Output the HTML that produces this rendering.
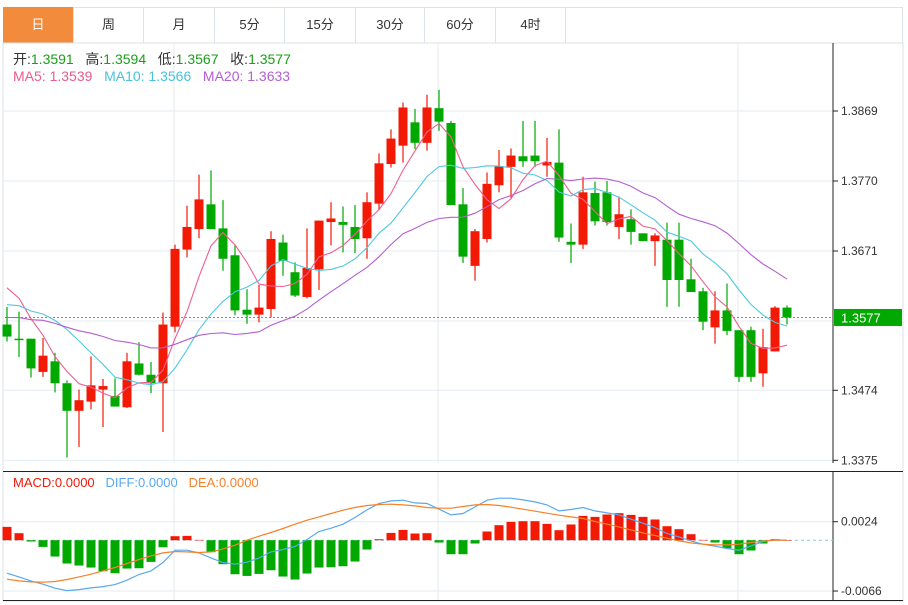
<!DOCTYPE html>
<html><head><meta charset="utf-8">
<style>
html,body{margin:0;padding:0;background:#fff;width:908px;height:605px;overflow:hidden;font-family:"Liberation Sans","Noto Sans CJK SC",sans-serif;}
.tab{position:absolute;top:7px;height:36px;line-height:36px;text-align:center;font-size:13px;color:#333;border-right:1px solid #dde3ea;box-sizing:border-box;}
</style></head><body>
<div style="position:absolute;left:3px;top:7px;width:900px;height:36px;border:1px solid #dde3ea;border-bottom:none;box-sizing:border-box"></div>
<div class="tab" style="left:3px;width:71px;background:#f28b3c;color:#fff">日</div>
<div class="tab" style="left:74px;width:70px">周</div>
<div class="tab" style="left:144px;width:71px">月</div>
<div class="tab" style="left:215px;width:70px">5分</div>
<div class="tab" style="left:285px;width:71px">15分</div>
<div class="tab" style="left:356px;width:69px">30分</div>
<div class="tab" style="left:425px;width:71px">60分</div>
<div class="tab" style="left:496px;width:70px">4时</div>
<svg id="chart" width="908" height="605" style="position:absolute;left:0;top:0" xmlns="http://www.w3.org/2000/svg" font-family="Liberation Sans, Noto Sans CJK SC, sans-serif"></svg>
<script>
const prevCloses=[1.3550,1.3565,1.3540,1.3570,1.3555,1.3560,1.3548,1.3575,1.3562,1.3565,1.3560,1.3580,1.3565,1.3575,1.3575,1.3620,1.3650,1.3640,1.3635];
const opens=[1.3567,1.3547,1.3547,1.3500,1.3515,1.3484,1.3445,1.3458,1.3475,1.3466,1.3450,1.3512,1.3496,1.3484,1.3564,1.3673,1.3702,1.3737,1.3703,1.3665,1.3588,1.3581,1.3589,1.3683,1.3641,1.3606,1.3645,1.3712,1.3712,1.3705,1.3689,1.3738,1.3794,1.3820,1.3853,1.3824,1.3873,1.3852,1.3737,1.3650,1.3688,1.3764,1.3790,1.3805,1.3806,1.3792,1.3796,1.3684,1.3680,1.3753,1.3754,1.3705,1.3716,1.3696,1.3685,1.3687,1.3687,1.3631,1.3614,1.3563,1.3587,1.3559,1.3559,1.3498,1.3529,1.3591];
const closes=[1.3550,1.3546,1.3505,1.3523,1.3484,1.3445,1.3460,1.3481,1.3480,1.3451,1.3515,1.3496,1.3484,1.3567,1.3674,1.3705,1.3744,1.3702,1.3660,1.3587,1.3581,1.3591,1.3688,1.3657,1.3608,1.3647,1.3714,1.3717,1.3708,1.3688,1.3740,1.3795,1.3830,1.3874,1.3824,1.3874,1.3854,1.3736,1.3663,1.3699,1.3766,1.3791,1.3806,1.3798,1.3798,1.3797,1.3690,1.3680,1.3754,1.3713,1.3712,1.3723,1.3698,1.3685,1.3693,1.3630,1.3630,1.3613,1.3571,1.3587,1.3558,1.3493,1.3493,1.3535,1.3591,1.3577];
const highs=[1.3592,1.3585,1.3547,1.3548,1.3527,1.3488,1.3475,1.3522,1.3490,1.3491,1.3527,1.3542,1.3514,1.3584,1.3680,1.3735,1.3779,1.3785,1.3743,1.3680,1.3617,1.3623,1.3699,1.3694,1.3655,1.3703,1.3714,1.3740,1.3734,1.3736,1.3754,1.3809,1.3843,1.3881,1.3872,1.3892,1.3899,1.3855,1.3760,1.3702,1.3782,1.3814,1.3816,1.3855,1.3855,1.3831,1.3843,1.3710,1.3776,1.3769,1.3770,1.3748,1.3730,1.3696,1.3696,1.3711,1.3711,1.3660,1.3619,1.3614,1.3625,1.3559,1.3564,1.3561,1.3593,1.3594];
const lows=[1.3543,1.3521,1.3492,1.3493,1.3471,1.3379,1.3394,1.3447,1.3422,1.3451,1.3449,1.3495,1.3470,1.3415,1.3556,1.3662,1.3689,1.3702,1.3643,1.3580,1.3568,1.3570,1.3577,1.3636,1.3606,1.3604,1.3616,1.3679,1.3669,1.3668,1.3660,1.3729,1.3789,1.3796,1.3815,1.3813,1.3841,1.3736,1.3654,1.3629,1.3683,1.3754,1.3746,1.3790,1.3790,1.3776,1.3684,1.3654,1.3674,1.3707,1.3707,1.3688,1.3680,1.3685,1.3650,1.3592,1.3592,1.3613,1.3559,1.3540,1.3552,1.3486,1.3486,1.3479,1.3529,1.3567];
const macdHist=[0.00173,0.00091,-0.00017,-0.00087,-0.00212,-0.00303,-0.00329,-0.00355,-0.00403,-0.00429,-0.00368,-0.00364,-0.00282,-0.00091,0.00052,0.00056,0.00004,-0.00156,-0.00312,-0.00442,-0.00464,-0.00438,-0.0039,-0.00472,-0.00511,-0.00433,-0.00355,-0.00351,-0.00338,-0.00277,-0.00121,0.00013,0.00095,0.00134,0.00087,0.00091,-0.0003,-0.00182,-0.00182,-0.00043,0.00113,0.00195,0.00238,0.00247,0.00247,0.00212,0.0013,0.00204,0.00316,0.00303,0.00334,0.00351,0.00329,0.00303,0.00269,0.00182,0.00143,0.00078,0.00004,-0.0003,-0.00104,-0.00182,-0.00134,-0.00043,0.00013,0];
const diffLine=[-0.00429,-0.00477,-0.00529,-0.00572,-0.00624,-0.00654,-0.00641,-0.0062,-0.00602,-0.00576,-0.0052,-0.00446,-0.00399,-0.0029,-0.0013,-0.0013,-0.00165,-0.0023,-0.0029,-0.00312,-0.00286,-0.0023,-0.00152,-0.00121,-0.00082,0.00009,0.00113,0.00156,0.00208,0.00295,0.00394,0.00477,0.00511,0.0052,0.00485,0.00477,0.00403,0.00329,0.00347,0.00433,0.0052,0.00546,0.00546,0.00524,0.00498,0.00459,0.00381,0.00399,0.00425,0.00381,0.00355,0.00329,0.00273,0.00221,0.00165,0.00087,0.00043,-0.00009,-0.00052,-0.00078,-0.00108,-0.0013,-0.00074,-0.00017,0.00004,0];
const deaLine=[-0.00507,-0.00529,-0.00542,-0.00546,-0.00537,-0.00511,-0.00477,-0.00442,-0.00399,-0.00355,-0.00303,-0.00251,-0.00204,-0.00165,-0.00147,-0.00152,-0.0016,-0.00152,-0.00113,-0.00065,0,0.00052,0.001,0.00152,0.00208,0.0026,0.00303,0.00347,0.0039,0.00425,0.00451,0.00464,0.00468,0.00459,0.00446,0.00425,0.00416,0.00416,0.00438,0.00459,0.00464,0.00451,0.00429,0.00403,0.00377,0.00351,0.00325,0.00303,0.00282,0.00243,0.00208,0.00173,0.00134,0.00095,0.00061,0.00026,-0.00009,-0.00035,-0.00052,-0.00061,-0.00061,-0.00052,-0.0003,-0.00013,0,0];
const priceTicks=[1.3869,1.3770,1.3671,1.3474,1.3375];
const priceGrid=[1.3869,1.3770,1.3671,1.3572,1.3474,1.3375];
const macdTicks=[0.0024,-0.0066];
const lastPrice=1.3577;

const svg=document.getElementById('chart');
const NS='http://www.w3.org/2000/svg';
function mk(tag,attrs,parent){const e=document.createElementNS(NS,tag);for(const k in attrs)e.setAttribute(k,attrs[k]);(parent||svg).appendChild(e);return e;}
const xS=i=>7+12*i;
const yP=p=>111+(1.3869-p)*7071;
const yM=v=>540.2-v*7700;

let g=mk('g',{});


mk('rect',{x:3,y:43,width:900,height:558,fill:'none',stroke:'#dde3ea'},g);
priceGrid.forEach(p=>mk('line',{x1:3,x2:833,y1:yP(p),y2:yP(p),stroke:'#e4ebf2'},g));
[yM(0.0024),yM(-0.0066)].forEach(y=>mk('line',{x1:3,x2:833,y1:y,y2:y,stroke:'#e4ebf2'},g));
[174,438,738].forEach(x=>{mk('line',{x1:x,x2:x,y1:43,y2:463,stroke:'#e4ebf2'},g);mk('line',{x1:x,x2:x,y1:472,y2:600,stroke:'#e4ebf2'},g);});
mk('line',{x1:3,x2:903,y1:471.5,y2:471.5,stroke:'#222'},g);
mk('line',{x1:3,x2:903,y1:600.5,y2:600.5,stroke:'#222'},g);
mk('line',{x1:833,x2:833,y1:43,y2:463,stroke:'#222'},g);
mk('line',{x1:833,x2:833,y1:472,y2:600,stroke:'#222'},g);

const ax=mk('g',{});


priceTicks.forEach(p=>{mk('line',{x1:833,x2:838,y1:yP(p),y2:yP(p),stroke:'#222'},ax);
 const t=mk('text',{x:841,y:yP(p)+4,'font-size':12,fill:'#333'},ax);t.textContent=p.toFixed(4);});
const ma=mk('g',{});


macdTicks.forEach(v=>{mk('line',{x1:833,x2:838,y1:yM(v),y2:yM(v),stroke:'#222'},ma);
 const t=mk('text',{x:841,y:yM(v)+4,'font-size':12,fill:'#333'},ma);t.textContent=v.toFixed(4);});

mk('line',{x1:5,x2:833,y1:yP(lastPrice),y2:yP(lastPrice),stroke:'#3cc03c','stroke-dasharray':'2,2'});
const lb=mk('g',{});


mk('rect',{x:834,y:yP(lastPrice)-8.5,width:68,height:17,fill:'#00a800'},lb);
const lt=mk('text',{x:841,y:yP(lastPrice)+5,'font-size':13,fill:'#fff'},lb);lt.textContent=lastPrice.toFixed(4);

const cg=mk('g',{});


opens.forEach((o,i)=>{
 const c=closes[i],up=c>o,col=up?'#f21a05':'#00a800',x=xS(i);
 const e=mk('g',{},cg);
 
 
 mk('line',{x1:x,x2:x,y1:yP(highs[i]),y2:yP(lows[i]),stroke:col,'stroke-width':1.2},e);
 const t=Math.min(yP(o),yP(c)),h=Math.max(1.5,Math.abs(yP(o)-yP(c)));
 mk('rect',{x:x-4.5,y:t,width:9,height:h,fill:col},e);
});

const all=prevCloses.concat(closes);
function maSeries(n){return closes.map((_,i)=>{const j=i+prevCloses.length;let s=0;for(let k=j-n+1;k<=j;k++)s+=all[k];return s/n;});}
[[5,'#f0608e','ma5-line'],[10,'#4fc8e0','ma10-line'],[20,'#b45fcf','ma20-line']].forEach(([n,col,name])=>{
 const s=maSeries(n);
 const pl=mk('polyline',{points:s.map((v,i)=>xS(i)+','+yP(v).toFixed(1)).join(' '),fill:'none',stroke:col,'stroke-width':1.1});
 
 
});

mk('line',{x1:3,x2:833,y1:yM(0),y2:yM(0),stroke:'#8fcbe0','stroke-dasharray':'3,3'});
const hg=mk('g',{});


macdHist.forEach((v,i)=>{
 const y0=yM(0),y1=yM(v);
 const r=mk('rect',{x:xS(i)-4.5,y:Math.min(y0,y1),width:9,height:Math.max(0.5,Math.abs(y1-y0)),fill:v>=0?'#f21a05':'#00a800'},hg);
 
 
});
[[diffLine,'#5aa8f0','diff-line'],[deaLine,'#f5812a','dea-line']].forEach(([s,col,name])=>{
 const pl=mk('polyline',{points:s.map((v,i)=>xS(i)+','+yM(v).toFixed(1)).join(' '),fill:'none',stroke:col,'stroke-width':1.2});
 
 
});
</script>
<div style="position:absolute;left:13px;top:49px;font-size:14px;color:#333;white-space:nowrap">开:<span style="color:#1a9e1a">1.3591</span>&nbsp;&nbsp; 高:<span style="color:#1a9e1a">1.3594</span>&nbsp;&nbsp; 低:<span style="color:#1a9e1a">1.3567</span>&nbsp;&nbsp; 收:<span style="color:#1a9e1a">1.3577</span></div>
<div style="position:absolute;left:13px;top:68px;font-size:14px;white-space:nowrap"><span style="color:#eb5c8a">MA5: 1.3539</span>&nbsp;&nbsp; <span style="color:#45c3de">MA10: 1.3566</span>&nbsp;&nbsp; <span style="color:#b35fd0">MA20: 1.3633</span></div>
<div style="position:absolute;left:13px;top:475px;font-size:13px;white-space:nowrap"><span style="color:#f01a0a">MACD:0.0000</span>&nbsp;&nbsp; <span style="color:#5aa8f0">DIFF:0.0000</span>&nbsp;&nbsp; <span style="color:#f5812a">DEA:0.0000</span></div>
</body></html>
